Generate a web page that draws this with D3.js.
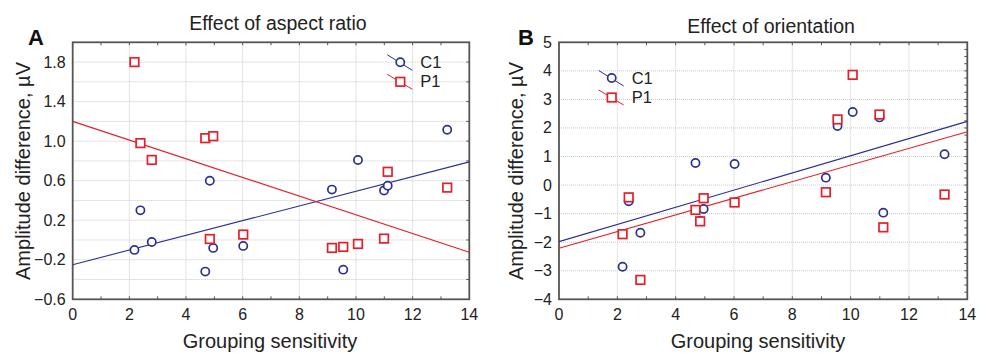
<!DOCTYPE html>
<html>
<head>
<meta charset="utf-8">
<script src="https://cdn.jsdelivr.net/npm/d3@7"></script>
<style>
  body { margin: 0; background: #fff; }
  svg text { font-family: "Liberation Sans", Arial, sans-serif; fill: #222; }
</style>
</head>
<body>
<script>
// grouping sensitivity of each subject (same for both panels)
var sensitivity = [2.18, 2.39, 2.79, 4.68, 4.84, 4.96, 6.02, 9.15, 9.55, 10.07, 10.99, 11.12, 13.22];

// panel A: effect of aspect ratio
var c1Aspect = [-0.10, 0.30, -0.02, -0.32, 0.60, -0.08, -0.06, 0.51, -0.30, 0.81, 0.50, 0.55, 1.115];
var p1Aspect = [1.80, 0.98, 0.81, 1.03, 0.01, 1.05, 0.055, -0.08, -0.07, -0.04, 0.014, 0.69, 0.53];
// fitted lines, value at x = 0 and x = 14
var c1AspectFit = [-0.25, 0.79];
var p1AspectFit = [1.20, -0.124];

// panel B: effect of orientation
var c1Orient = [-2.86, -0.57, -1.67, 0.775, -1.25, -0.84, 0.74, 0.26, 2.07, 2.56, 2.37, -0.965, 1.08];
var p1Orient = [-1.72, -0.43, -3.32, -0.87, -1.27, -0.46, -0.61, -0.25, 2.30, 3.86, 2.47, -1.48, -0.33];
var c1OrientFit = [-1.98, 2.23];
var p1OrientFit = [-2.21, 1.87];

var xTicks = [0, 2, 4, 6, 8, 10, 12, 14];
var yTicksA = [-0.6, -0.2, 0.2, 0.6, 1.0, 1.4, 1.8];
var yTicksB = [-4, -3, -2, -1, 0, 1, 2, 3, 4, 5];

var blue = "#2b3190";
var red = "#e3202a";

var svg = d3.select("body")
            .append("svg")
            .attr("width", 989)
            .attr("height", 354);

function drawPanel(p) {
  var x = d3.scaleLinear().domain([0, 14]).range([p.left, p.right]);
  var y = d3.scaleLinear().domain(p.yDomain).range([299.3, 42.3]);
  var g = svg.append("g");

  // dotted grid
  g.selectAll(".hgrid")
   .data(d3.range(p.yDomain[0] + p.gridStep, p.yDomain[1] - 1e-6, p.gridStep))
   .enter().append("line")
   .attr("x1", x(0)).attr("x2", x(14))
   .attr("y1", function(d) { return y(d); })
   .attr("y2", function(d) { return y(d); })
   .attr("stroke", "#c8c8c8").attr("stroke-dasharray", "1,1");

  g.selectAll(".vgrid")
   .data([2, 4, 6, 8, 10, 12])
   .enter().append("line")
   .attr("y1", y.range()[0]).attr("y2", y.range()[1])
   .attr("x1", function(d) { return x(d); })
   .attr("x2", function(d) { return x(d); })
   .attr("stroke", "#c8c8c8").attr("stroke-dasharray", "1,1");

  // small inner ticks on the top, bottom and right side
  var minorX = d3.range(1, 14, 1);
  g.selectAll(".tickb").data(minorX).enter().append("line")
   .attr("x1", function(d) { return x(d); }).attr("x2", function(d) { return x(d); })
   .attr("y1", y.range()[0]).attr("y2", y.range()[0] - 3)
   .attr("stroke", "#555");
  g.selectAll(".tickt").data(minorX).enter().append("line")
   .attr("x1", function(d) { return x(d); }).attr("x2", function(d) { return x(d); })
   .attr("y1", y.range()[1]).attr("y2", y.range()[1] + 3)
   .attr("stroke", "#555");
  g.selectAll(".tickr")
   .data(d3.range(p.yDomain[0] + p.rightStep, p.yDomain[1] - 1e-6, p.rightStep))
   .enter().append("line")
   .attr("x1", x(14)).attr("x2", x(14) - 3)
   .attr("y1", function(d) { return y(d); })
   .attr("y2", function(d) { return y(d); })
   .attr("stroke", "#555");

  // frame
  g.append("rect")
   .attr("x", x(0)).attr("y", y.range()[1])
   .attr("width", x(14) - x(0)).attr("height", y.range()[0] - y.range()[1])
   .attr("fill", "none").attr("stroke", "#555").attr("stroke-width", 1.8);

  // tick labels
  g.selectAll(".xlab").data(xTicks).enter().append("text")
   .attr("x", function(d) { return x(d); })
   .attr("y", 320)
   .attr("text-anchor", "middle")
   .style("font-size", "16px")
   .text(function(d) { return d; });

  g.selectAll(".ylab").data(p.yTicks).enter().append("text")
   .attr("x", x(0) - 7)
   .attr("y", function(d) { return y(d) + 5.5; })
   .attr("text-anchor", "end")
   .style("font-size", "16px")
   .text(function(d) { return p.fmt(d); });

  // fitted lines
  [[p.c1Fit, blue], [p.p1Fit, red]].forEach(function(f) {
    g.append("line")
     .attr("x1", x(0)).attr("y1", y(f[0][0]))
     .attr("x2", x(14)).attr("y2", y(f[0][1]))
     .attr("stroke", f[1]).attr("stroke-width", 1.1);
  });

  // C1 circles
  g.selectAll(".c1").data(p.c1).enter().append("circle")
   .attr("cx", function(d, i) { return x(sensitivity[i]); })
   .attr("cy", function(d) { return y(d); })
   .attr("r", 4.1)
   .attr("fill", "#fff").attr("stroke", blue).attr("stroke-width", 1.7);

  // P1 squares
  g.selectAll(".p1").data(p.p1).enter().append("rect")
   .attr("x", function(d, i) { return x(sensitivity[i]) - 4.3; })
   .attr("y", function(d) { return y(d) - 4.3; })
   .attr("width", 8.6).attr("height", 8.6)
   .attr("fill", "#fff").attr("stroke", red).attr("stroke-width", 1.7);

  // legend
  var lx = p.legendX, ly = p.legendY;
  g.append("line").attr("x1", lx - 13).attr("y1", ly - 7.5).attr("x2", lx + 12).attr("y2", ly + 8)
   .attr("stroke", blue).attr("stroke-width", 1);
  g.append("circle").attr("cx", lx).attr("cy", ly).attr("r", 4.1)
   .attr("fill", "#fff").attr("stroke", blue).attr("stroke-width", 1.7);
  g.append("text").attr("x", lx + 20).attr("y", ly + 6).style("font-size", "16.5px").text("C1");

  g.append("line").attr("x1", lx - 13).attr("y1", ly + 12).attr("x2", lx + 12).attr("y2", ly + 27)
   .attr("stroke", red).attr("stroke-width", 1);
  g.append("rect").attr("x", lx - 4.3).attr("y", ly + 15.2).attr("width", 8.6).attr("height", 8.6)
   .attr("fill", "#fff").attr("stroke", red).attr("stroke-width", 1.7);
  g.append("text").attr("x", lx + 20).attr("y", ly + 25).style("font-size", "16.5px").text("P1");

  // titles
  g.append("text")
   .attr("x", p.titleX).attr("y", p.titleY)
   .attr("text-anchor", "middle")
   .style("font-size", "19.5px")
   .text(p.title);

  g.append("text")
   .attr("x", p.letterX).attr("y", 44.5)
   .style("font-size", "22px").style("font-weight", "bold")
   .style("fill", "#111")
   .text(p.letter);

  g.append("text")
   .attr("x", p.xTitleX).attr("y", 348)
   .attr("text-anchor", "middle")
   .style("font-size", "20px")
   .text("Grouping sensitivity");

  g.append("text")
   .attr("transform", "translate(" + p.yTitleX + "," + 171 + ")rotate(-90)")
   .attr("text-anchor", "middle")
   .style("font-size", "20px")
   .text("Amplitude difference, µV");
}

drawPanel({
  left: 72.7, right: 469.3,
  yDomain: [-0.6, 2.0], gridStep: 0.2, rightStep: 0.2,
  yTicks: yTicksA, fmt: d3.format(".1f"),
  c1: c1Aspect, p1: p1Aspect, c1Fit: c1AspectFit, p1Fit: p1AspectFit,
  legendX: 400.3, legendY: 62.3,
  title: "Effect of aspect ratio", titleX: 278, titleY: 30,
  letter: "A", letterX: 28,
  xTitleX: 270, yTitleX: 30
});

drawPanel({
  left: 559, right: 967.3,
  yDomain: [-4, 5], gridStep: 1, rightStep: 0.25,
  yTicks: yTicksB, fmt: d3.format("d"),
  c1: c1Orient, p1: p1Orient, c1Fit: c1OrientFit, p1Fit: p1OrientFit,
  legendX: 611.7, legendY: 78,
  title: "Effect of orientation", titleX: 771, titleY: 33,
  letter: "B", letterX: 518,
  xTitleX: 758, yTitleX: 523
});
</script>
</body>
</html>
